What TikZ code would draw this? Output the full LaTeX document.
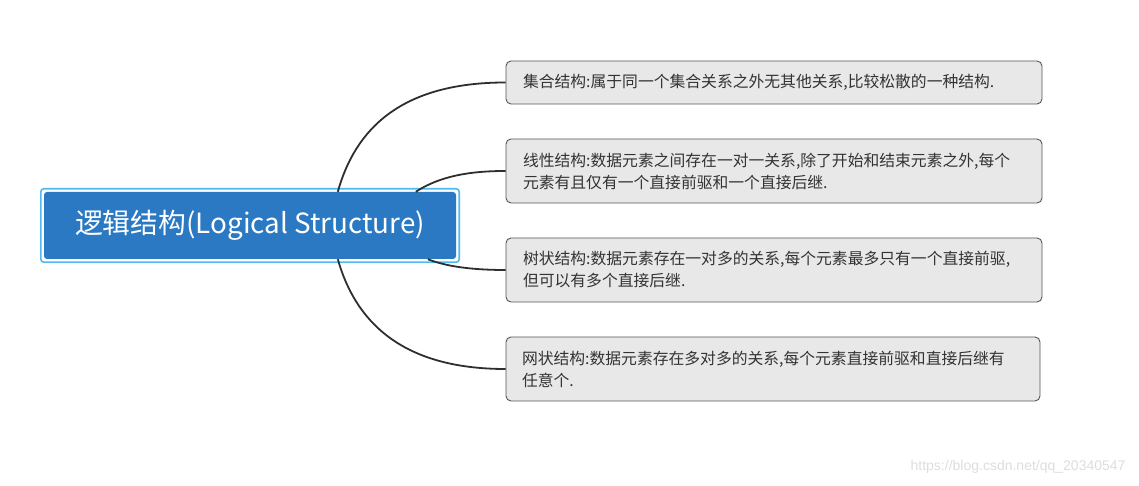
\documentclass[tikz,border=0pt]{standalone}
\usepackage{fontspec}
\setmainfont{Noto Sans CJK SC}
\newfontfamily\wmfont{Liberation Sans}
\definecolor{rootblue}{HTML}{2B79C2}
\definecolor{hlblue}{HTML}{4DBBF2}
\definecolor{boxfill}{HTML}{E8E8E8}
\definecolor{boxline}{HTML}{555555}
\definecolor{txt}{HTML}{333333}
\definecolor{curve}{HTML}{2E2E2E}
\definecolor{wm}{HTML}{DDDDDD}
\tikzset{
  rootbox/.style={fill=rootblue, draw=none, rounded corners=3pt, minimum width=412pt, minimum height=67pt,
    inner sep=0pt, text=white, font=\fontsize{27.8}{32}\selectfont},
  infobox/.style={fill=boxfill, draw=boxline, line width=0.9pt, rounded corners=5pt, minimum width=536pt,
    text width=502pt, align=left, inner sep=0pt, text=txt, font=\fontsize{15.8}{22}\selectfont},
  link/.style={draw=curve, line width=1.8pt},
}
\begin{document}
\begin{tikzpicture}[x=1pt,y=1pt]
\useasboundingbox (0,0) rectangle (1139,486);
\node[rootbox] (root) at (250,260.5) {逻辑结构(Logical Structure)};
\draw[hlblue, line width=1.6pt, rounded corners=3pt] ([shift={(-3,3)}]root.north west) rectangle ([shift={(3,-3)}]root.south east);
\node[infobox, minimum height=43pt] (b1) at (774,403.5) {集合结构:属于同一个集合关系之外无其他关系,比较松散的一种结构.};
\node[infobox, minimum height=64pt] (b2) at (774,315) {线性结构:数据元素之间存在一对一关系,除了开始和结束元素之外,每个\\元素有且仅有一个直接前驱和一个直接后继.};
\node[infobox, minimum height=64pt] (b3) at (774,216) {树状结构:数据元素存在一对多的关系,每个元素最多只有一个直接前驱,\\但可以有多个直接后继.};
\node[infobox, minimum height=64pt, minimum width=534pt] (b4) at (773,117) {网状结构:数据元素存在多对多的关系,每个元素直接前驱和直接后继有\\任意个.};
\coordinate (s1) at ([xshift=294pt]root.north west);
\coordinate (s2) at ([xshift=372pt]root.north west);
\coordinate (s3) at ([xshift=384pt]root.south west);
\coordinate (s4) at ([xshift=294pt]root.south west);
\draw[link] (s1) .. controls (355,356) and (400,403.5) .. (b1.west);
\draw[link] (s2) .. controls (440,310) and (470,315) .. (b2.west);
\draw[link] (s3) .. controls (450,218) and (480,216) .. (b3.west);
\draw[link] (s4) .. controls (355,166) and (400,117) .. (b4.west);
\node[text=wm, font=\wmfont\fontsize{14}{16}\selectfont, anchor=east] (wmk) at (1129,19) {https://blog.csdn.net/qq\_20340547};
\end{tikzpicture}
\end{document}
